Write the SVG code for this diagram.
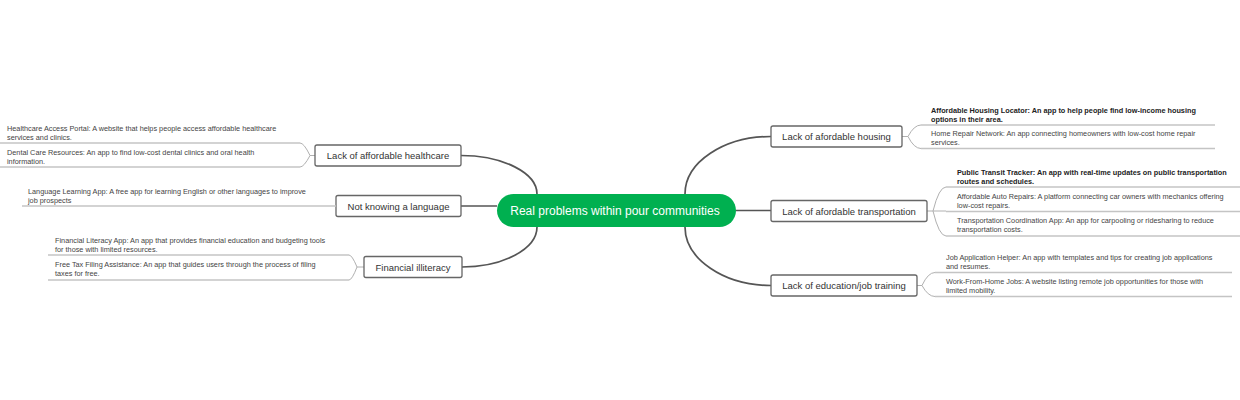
<svg xmlns="http://www.w3.org/2000/svg" width="1240" height="400" viewBox="0 0 1240 400">
<style>
.bg{fill:#ffffff}
.main rect{fill:#ffffff;stroke:#666666;stroke-width:1.3}
.main text{font-family:"Liberation Sans",Arial,sans-serif;font-size:9.5px;fill:#333333;text-anchor:middle}
.center rect{fill:#00b050}
.center text{font-family:"Liberation Sans",Arial,sans-serif;font-size:12px;fill:#ffffff;text-anchor:middle}
.leaf text{font-family:"Liberation Sans",Arial,sans-serif;font-size:7.3px;fill:#444444}
.leaf text.b{font-weight:bold;fill:#222222}
.leaf line{stroke:#c4c4c4;stroke-width:1.4}
.conn path{fill:none;stroke:#555555;stroke-width:1.7}
.fork path{fill:none;stroke:#b0b0b0;stroke-width:1}
</style>
<rect class="bg" x="0" y="0" width="1240" height="400"/>

<g id="connectors">
  <g class="conn">
    <path d="M685,194 C685,162 724,136.5 771,136.5"/>
    <path d="M736,210.5 L771,210.5"/>
    <path d="M685,227 C685,259 724,285.5 771,285.5"/>
    <path d="M537,194 C537,173 503,155.5 461,155.5"/>
    <path d="M497,206 L461,206"/>
    <path d="M537,227 C537,249 503,267 462,267"/>
  </g>
  <g class="fork">
    <path d="M902,136.5 L908,136.5 Q914,125 921,125"/>
    <path d="M908,136.5 Q914,148.5 921,148.5"/>
    <path d="M927,211 L933,211 Q939,187 946,187"/>
    <path d="M933,211 L946,211"/>
    <path d="M933,211 Q939,236 946,236"/>
    <path d="M917,285.5 L922,285.5 Q928,272.5 935,272.5"/>
    <path d="M922,285.5 Q928,296.5 935,296.5"/>
    <path d="M315,155.5 L310,155.5 Q304,143 300,143"/>
    <path d="M310,155.5 Q304,167 300,167"/>
    <path d="M364,267 L357,267 Q352,255 349,255"/>
    <path d="M357,267 Q352,280 349,280"/>
  </g>
</g>

<g id="center" class="center">
  <rect x="497" y="194" width="239" height="33" rx="16.5"/>
  <text x="615" y="215">Real problems within pour communities</text>
</g>

<g id="housing" class="main">
  <rect x="771" y="126" width="131" height="21" rx="2"/>
  <text x="836.5" y="140">Lack of afordable housing</text>
</g>
<g id="transportation" class="main">
  <rect x="771" y="200.5" width="156" height="21" rx="2"/>
  <text x="849" y="214.5">Lack of afordable transportation</text>
</g>
<g id="education" class="main">
  <rect x="771" y="275" width="146" height="21" rx="2"/>
  <text x="844" y="289">Lack of education/job training</text>
</g>
<g id="healthcare" class="main">
  <rect x="315" y="145" width="146" height="21" rx="2"/>
  <text x="388" y="159">Lack of affordable healthcare</text>
</g>
<g id="language" class="main">
  <rect x="336" y="195.5" width="125" height="21" rx="2"/>
  <text x="398.5" y="209.5">Not knowing a language</text>
</g>
<g id="financial" class="main">
  <rect x="364" y="256.5" width="98" height="21" rx="2"/>
  <text x="413" y="270.5">Financial illiteracy</text>
</g>

<g id="leaf-housing-1" class="leaf">
  <text class="b" x="931" y="113">Affordable Housing Locator: An app to help people find low-income housing</text>
  <text class="b" x="931" y="121.5">options in their area.</text>
  <line x1="921" y1="125" x2="1215" y2="125"/>
</g>
<g id="leaf-housing-2" class="leaf">
  <text x="931" y="135.5">Home Repair Network: An app connecting homeowners with low-cost home repair</text>
  <text x="931" y="144.5">services.</text>
  <line x1="921" y1="148.5" x2="1215" y2="148.5"/>
</g>
<g id="leaf-transport-1" class="leaf">
  <text class="b" x="957" y="175">Public Transit Tracker: An app with real-time updates on public transportation</text>
  <text class="b" x="957" y="184">routes and schedules.</text>
  <line x1="946" y1="187" x2="1240" y2="187"/>
</g>
<g id="leaf-transport-2" class="leaf">
  <text x="957" y="199">Affordable Auto Repairs: A platform connecting car owners with mechanics offering</text>
  <text x="957" y="208">low-cost repairs.</text>
  <line x1="946" y1="211.5" x2="1240" y2="211.5"/>
</g>
<g id="leaf-transport-3" class="leaf">
  <text x="957" y="223">Transportation Coordination App: An app for carpooling or ridesharing to reduce</text>
  <text x="957" y="232">transportation costs.</text>
  <line x1="946" y1="236" x2="1240" y2="236"/>
</g>
<g id="leaf-education-1" class="leaf">
  <text x="946" y="260">Job Application Helper: An app with templates and tips for creating job applications</text>
  <text x="946" y="269">and resumes.</text>
  <line x1="935" y1="272.5" x2="1232" y2="272.5"/>
</g>
<g id="leaf-education-2" class="leaf">
  <text x="946" y="284">Work-From-Home Jobs: A website listing remote job opportunities for those with</text>
  <text x="946" y="293">limited mobility.</text>
  <line x1="935" y1="296.5" x2="1232" y2="296.5"/>
</g>
<g id="leaf-healthcare-1" class="leaf">
  <text x="7" y="131">Healthcare Access Portal: A website that helps people access affordable healthcare</text>
  <text x="7" y="140">services and clinics.</text>
  <line x1="0" y1="143" x2="300" y2="143"/>
</g>
<g id="leaf-healthcare-2" class="leaf">
  <text x="7" y="154.5">Dental Care Resources: An app to find low-cost dental clinics and oral health</text>
  <text x="7" y="163.5">information.</text>
  <line x1="0" y1="167" x2="300" y2="167"/>
</g>
<g id="leaf-language-1" class="leaf">
  <text x="28" y="193.5">Language Learning App: A free app for learning English or other languages to improve</text>
  <text x="28" y="202.5">job prospects</text>
  <line x1="22" y1="206" x2="336" y2="206"/>
</g>
<g id="leaf-financial-1" class="leaf">
  <text x="55" y="243">Financial Literacy App: An app that provides financial education and budgeting tools</text>
  <text x="55" y="252">for those with limited resources.</text>
  <line x1="48" y1="255" x2="349" y2="255"/>
</g>
<g id="leaf-financial-2" class="leaf">
  <text x="55" y="266.5">Free Tax Filing Assistance: An app that guides users through the process of filing</text>
  <text x="55" y="275.5">taxes for free.</text>
  <line x1="48" y1="280" x2="349" y2="280"/>
</g>
</svg>
